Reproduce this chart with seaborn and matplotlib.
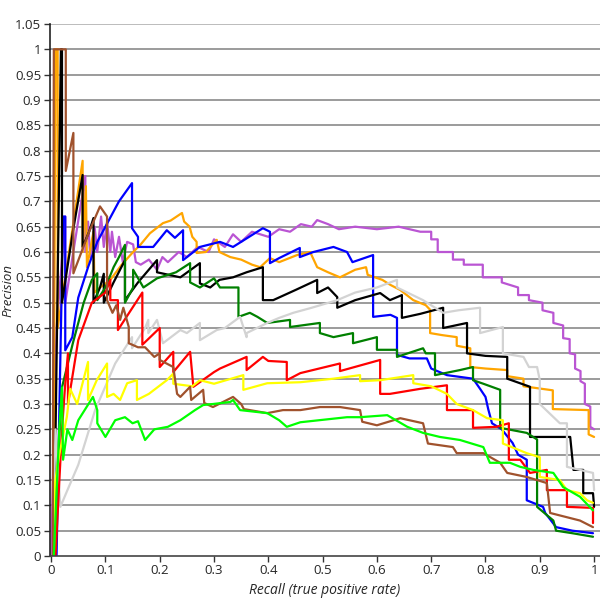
import numpy as np
import pandas as pd
import matplotlib
matplotlib.use('Agg')
import matplotlib.pyplot as plt
import seaborn as sns

# precision / recall points, one pair of lists per curve
purple_r = [0.000, 0.010, 0.026, 0.026, 0.063, 0.063, 0.068, 0.072, 0.080, 0.085, 0.092, 0.097, 0.103, 0.109, 0.112,
            0.118, 0.125, 0.132, 0.140, 0.151, 0.156, 0.165, 0.180, 0.195, 0.205, 0.215, 0.235, 0.250, 0.270, 0.290,
            0.300, 0.320, 0.335, 0.350, 0.370, 0.400, 0.420, 0.440, 0.460, 0.480, 0.490, 0.510, 0.530, 0.560, 0.600,
            0.640, 0.680, 0.700, 0.700, 0.712, 0.712, 0.740, 0.740, 0.760, 0.760, 0.795, 0.795, 0.830, 0.830, 0.860,
            0.860, 0.880, 0.880, 0.905, 0.905, 0.925, 0.925, 0.943, 0.943, 0.955, 0.955, 0.965, 0.965, 0.975, 0.975,
            0.983, 0.983, 0.993, 0.993, 1.000]
purple_p = [0.000, 0.450, 0.670, 0.500, 0.750, 0.600, 0.660, 0.590, 0.650, 0.600, 0.670, 0.610, 0.660, 0.600, 0.640,
            0.590, 0.630, 0.580, 0.620, 0.615, 0.580, 0.575, 0.585, 0.565, 0.590, 0.580, 0.600, 0.590, 0.610, 0.600,
            0.625, 0.610, 0.635, 0.620, 0.640, 0.630, 0.645, 0.640, 0.655, 0.650, 0.663, 0.655, 0.645, 0.650, 0.645,
            0.650, 0.640, 0.640, 0.625, 0.625, 0.600, 0.600, 0.585, 0.585, 0.575, 0.575, 0.550, 0.550, 0.540, 0.530,
            0.515, 0.515, 0.505, 0.500, 0.485, 0.480, 0.460, 0.455, 0.430, 0.428, 0.400, 0.398, 0.370, 0.365, 0.345,
            0.340, 0.300, 0.295, 0.255, 0.250]

orange_r = [0.004, 0.008, 0.012, 0.012, 0.040, 0.058, 0.058, 0.064, 0.066, 0.078, 0.080, 0.090, 0.109, 0.130, 0.151,
            0.165, 0.182, 0.206, 0.220, 0.241, 0.245, 0.255, 0.260, 0.268, 0.268, 0.285, 0.305, 0.310, 0.330, 0.350,
            0.370, 0.385, 0.403, 0.420, 0.453, 0.477, 0.490, 0.510, 0.532, 0.560, 0.580, 0.583, 0.610, 0.625, 0.643,
            0.667, 0.690, 0.698, 0.698, 0.720, 0.747, 0.747, 0.772, 0.772, 0.800, 0.840, 0.840, 0.870, 0.870, 0.924,
            0.924, 0.990, 0.990, 1.000]
orange_p = [0.000, 1.000, 1.000, 0.450, 0.650, 0.780, 0.600, 0.730, 0.570, 0.640, 0.520, 0.530, 0.545, 0.575, 0.600,
            0.615, 0.637, 0.657, 0.662, 0.677, 0.660, 0.650, 0.630, 0.620, 0.598, 0.600, 0.624, 0.600, 0.590, 0.585,
            0.575, 0.570, 0.588, 0.580, 0.594, 0.600, 0.570, 0.560, 0.550, 0.565, 0.570, 0.555, 0.545, 0.535, 0.525,
            0.505, 0.495, 0.486, 0.440, 0.436, 0.432, 0.415, 0.410, 0.373, 0.370, 0.367, 0.355, 0.350, 0.335, 0.327,
            0.290, 0.288, 0.240, 0.235]

blue_r = [0.010, 0.022, 0.026, 0.026, 0.039, 0.050, 0.068, 0.085, 0.100, 0.125, 0.149, 0.149, 0.160, 0.160, 0.188,
          0.213, 0.228, 0.243, 0.243, 0.274, 0.311, 0.335, 0.390, 0.403, 0.403, 0.420, 0.458, 0.458, 0.483, 0.520,
          0.545, 0.555, 0.593, 0.593, 0.625, 0.637, 0.637, 0.660, 0.692, 0.700, 0.729, 0.777, 0.790, 0.800, 0.805,
          0.812, 0.830, 0.850, 0.860, 0.876, 0.876, 0.906, 0.910, 0.930, 0.960, 0.998]
blue_p = [0.000, 0.670, 0.670, 0.406, 0.432, 0.510, 0.570, 0.620, 0.650, 0.700, 0.736, 0.647, 0.630, 0.610, 0.610,
          0.643, 0.628, 0.643, 0.584, 0.610, 0.620, 0.610, 0.647, 0.640, 0.578, 0.588, 0.608, 0.590, 0.600, 0.610,
          0.600, 0.580, 0.594, 0.472, 0.476, 0.470, 0.397, 0.390, 0.390, 0.370, 0.357, 0.350, 0.330, 0.314, 0.290,
          0.262, 0.250, 0.223, 0.200, 0.190, 0.110, 0.097, 0.085, 0.057, 0.050, 0.045]

black_r = [0.005, 0.018, 0.020, 0.020, 0.040, 0.058, 0.058, 0.070, 0.078, 0.078, 0.090, 0.097, 0.097, 0.115, 0.136,
           0.136, 0.160, 0.195, 0.195, 0.238, 0.274, 0.274, 0.293, 0.310, 0.335, 0.360, 0.390, 0.390, 0.409, 0.450,
           0.490, 0.490, 0.510, 0.527, 0.527, 0.560, 0.606, 0.624, 0.646, 0.646, 0.680, 0.722, 0.722, 0.766, 0.766,
           0.800, 0.840, 0.840, 0.882, 0.882, 0.920, 0.956, 0.962, 0.980, 0.980, 0.998, 1.000]
black_p = [0.000, 1.000, 1.000, 0.500, 0.640, 0.752, 0.610, 0.640, 0.667, 0.500, 0.530, 0.557, 0.500, 0.540, 0.584,
           0.505, 0.540, 0.584, 0.560, 0.550, 0.578, 0.538, 0.530, 0.545, 0.550, 0.560, 0.570, 0.505, 0.505, 0.525,
           0.545, 0.519, 0.530, 0.511, 0.490, 0.505, 0.519, 0.505, 0.515, 0.470, 0.478, 0.490, 0.450, 0.460, 0.400,
           0.395, 0.393, 0.350, 0.334, 0.235, 0.235, 0.235, 0.170, 0.170, 0.124, 0.124, 0.097]

green_r = [0.005, 0.013, 0.020, 0.040, 0.060, 0.075, 0.085, 0.085, 0.100, 0.115, 0.125, 0.136, 0.136, 0.151, 0.151,
           0.170, 0.195, 0.230, 0.256, 0.256, 0.274, 0.300, 0.311, 0.345, 0.345, 0.366, 0.380, 0.398, 0.440, 0.440,
           0.495, 0.495, 0.520, 0.556, 0.556, 0.600, 0.600, 0.637, 0.637, 0.685, 0.690, 0.707, 0.707, 0.753, 0.777,
           0.777, 0.796, 0.827, 0.827, 0.876, 0.895, 0.895, 0.925, 0.930, 0.960, 0.998]
green_p = [0.000, 0.200, 0.333, 0.420, 0.500, 0.545, 0.558, 0.505, 0.530, 0.570, 0.590, 0.614, 0.500, 0.530, 0.565,
           0.530, 0.548, 0.560, 0.578, 0.540, 0.530, 0.548, 0.530, 0.530, 0.472, 0.480, 0.472, 0.460, 0.466, 0.452,
           0.460, 0.440, 0.432, 0.440, 0.420, 0.432, 0.407, 0.407, 0.393, 0.410, 0.400, 0.400, 0.357, 0.367, 0.373,
           0.347, 0.340, 0.328, 0.253, 0.243, 0.230, 0.097, 0.070, 0.050, 0.045, 0.038]

gray_r = [0.003, 0.008, 0.017, 0.030, 0.050, 0.081, 0.100, 0.118, 0.149, 0.149, 0.173, 0.179, 0.179, 0.195, 0.206,
          0.238, 0.250, 0.274, 0.274, 0.305, 0.320, 0.348, 0.360, 0.360, 0.398, 0.420, 0.446, 0.480, 0.527, 0.560,
          0.600, 0.637, 0.637, 0.685, 0.722, 0.750, 0.790, 0.790, 0.832, 0.832, 0.870, 0.880, 0.895, 0.900, 0.900,
          0.937, 0.950, 0.950, 0.998, 1.000]
gray_p = [0.000, 0.250, 0.097, 0.130, 0.180, 0.288, 0.335, 0.380, 0.432, 0.410, 0.450, 0.466, 0.440, 0.466, 0.420,
          0.446, 0.440, 0.460, 0.426, 0.446, 0.450, 0.472, 0.432, 0.440, 0.460, 0.470, 0.480, 0.490, 0.505, 0.520,
          0.530, 0.545, 0.530, 0.505, 0.480, 0.485, 0.490, 0.440, 0.452, 0.400, 0.393, 0.373, 0.373, 0.347, 0.300,
          0.262, 0.262, 0.176, 0.164, 0.130]

red_r = [0.008, 0.020, 0.026, 0.031, 0.031, 0.050, 0.075, 0.100, 0.109, 0.109, 0.123, 0.123, 0.168, 0.168, 0.200,
         0.200, 0.225, 0.225, 0.256, 0.262, 0.300, 0.311, 0.360, 0.360, 0.390, 0.400, 0.434, 0.434, 0.459, 0.532,
         0.532, 0.606, 0.606, 0.624, 0.680, 0.729, 0.729, 0.777, 0.777, 0.820, 0.843, 0.843, 0.864, 0.882, 0.913,
         0.913, 0.950, 0.950, 0.998, 0.998]
red_p = [0.000, 0.250, 0.340, 0.400, 0.300, 0.426, 0.500, 0.520, 0.545, 0.505, 0.505, 0.446, 0.520, 0.417, 0.450,
         0.373, 0.403, 0.363, 0.403, 0.334, 0.363, 0.370, 0.393, 0.367, 0.393, 0.385, 0.383, 0.347, 0.361, 0.380,
         0.365, 0.387, 0.320, 0.320, 0.330, 0.337, 0.288, 0.288, 0.253, 0.255, 0.262, 0.190, 0.190, 0.164, 0.170,
         0.130, 0.130, 0.097, 0.095, 0.065]

yellow_r = [0.005, 0.007, 0.015, 0.029, 0.035, 0.048, 0.068, 0.068, 0.084, 0.103, 0.103, 0.115, 0.127, 0.140, 0.158,
            0.158, 0.180, 0.213, 0.225, 0.225, 0.260, 0.274, 0.300, 0.354, 0.354, 0.398, 0.459, 0.520, 0.569, 0.569,
            0.606, 0.667, 0.667, 0.700, 0.729, 0.747, 0.777, 0.803, 0.832, 0.832, 0.876, 0.900, 0.900, 0.937, 0.950,
            0.974, 0.987, 0.998]
yellow_p = [0.000, 0.144, 0.200, 0.275, 0.330, 0.300, 0.383, 0.308, 0.347, 0.380, 0.314, 0.320, 0.308, 0.341, 0.347,
            0.308, 0.320, 0.347, 0.360, 0.340, 0.335, 0.347, 0.340, 0.357, 0.328, 0.341, 0.343, 0.350, 0.357, 0.345,
            0.347, 0.357, 0.341, 0.335, 0.320, 0.300, 0.288, 0.272, 0.268, 0.222, 0.203, 0.195, 0.156, 0.150, 0.130,
            0.124, 0.110, 0.105]

brown_r = [0.003, 0.005, 0.027, 0.027, 0.041, 0.041, 0.070, 0.090, 0.103, 0.103, 0.113, 0.120, 0.127, 0.133, 0.143,
           0.143, 0.160, 0.173, 0.190, 0.200, 0.200, 0.225, 0.232, 0.238, 0.256, 0.258, 0.280, 0.282, 0.298, 0.335,
           0.350, 0.355, 0.398, 0.427, 0.459, 0.495, 0.532, 0.569, 0.573, 0.600, 0.643, 0.685, 0.694, 0.740, 0.747,
           0.796, 0.827, 0.840, 0.876, 0.913, 0.919, 0.974, 0.998]
brown_p = [0.000, 1.000, 1.000, 0.760, 0.835, 0.558, 0.640, 0.690, 0.670, 0.505, 0.480, 0.495, 0.466, 0.490, 0.452,
           0.420, 0.412, 0.412, 0.393, 0.400, 0.387, 0.373, 0.320, 0.314, 0.334, 0.308, 0.328, 0.302, 0.294, 0.314,
           0.300, 0.290, 0.282, 0.288, 0.288, 0.294, 0.294, 0.288, 0.265, 0.258, 0.272, 0.262, 0.222, 0.215, 0.203,
           0.203, 0.184, 0.164, 0.156, 0.144, 0.085, 0.070, 0.057]

lime_r = [0.005, 0.015, 0.020, 0.022, 0.030, 0.039, 0.050, 0.077, 0.085, 0.085, 0.100, 0.118, 0.136, 0.150, 0.160,
          0.173, 0.190, 0.215, 0.238, 0.265, 0.280, 0.298, 0.330, 0.335, 0.348, 0.398, 0.420, 0.434, 0.459, 0.545,
          0.569, 0.619, 0.656, 0.685, 0.716, 0.753, 0.796, 0.808, 0.845, 0.864, 0.888, 0.925, 0.943, 0.974, 0.998]
lime_p = [0.000, 0.250, 0.333, 0.190, 0.250, 0.229, 0.268, 0.314, 0.288, 0.262, 0.235, 0.268, 0.274, 0.262, 0.266,
          0.229, 0.250, 0.255, 0.268, 0.288, 0.298, 0.300, 0.304, 0.308, 0.288, 0.282, 0.268, 0.255, 0.264, 0.274,
          0.274, 0.278, 0.255, 0.243, 0.235, 0.229, 0.215, 0.184, 0.184, 0.176, 0.170, 0.164, 0.136, 0.117, 0.090]

curves = {
    'purple': (purple_r, purple_p, '#BA55D3'),
    'orange': (orange_r, orange_p, '#FFA500'),
    'blue': (blue_r, blue_p, '#0000FF'),
    'black': (black_r, black_p, '#000000'),
    'green': (green_r, green_p, '#008000'),
    'gray': (gray_r, gray_p, '#D3D3D3'),
    'red': (red_r, red_p, '#FF0000'),
    'yellow': (yellow_r, yellow_p, '#FFFF00'),
    'brown': (brown_r, brown_p, '#A0522D'),
    'lime': (lime_r, lime_p, '#00FF00'),
}

frames = []
for name, (r, p, c) in curves.items():
    frames.append(pd.DataFrame({'recall': r, 'precision': p, 'model': name}))
df = pd.concat(frames, ignore_index=True)
palette = {name: v[2] for name, v in curves.items()}

sns.set_style('white')
plt.rcParams['font.family'] = ['Open Sans', 'DejaVu Sans']

fig = plt.figure(figsize=(6, 6), dpi=100)
ax = fig.add_axes([0.0825, 0.0733, 0.9167, 0.8867])

# horizontal grid only
for yv in np.arange(0.05, 1.051, 0.05):
    ax.axhline(yv, color='#8a8a8a' if yv < 1.04 else '#b0b0b0', lw=1.2, zorder=0)

sns.lineplot(data=df, x='recall', y='precision', hue='model', palette=palette,
             sort=False, estimator=None, lw=1.6, legend=False, ax=ax)

ax.set_xlim(-0.003, 1.01)
ax.set_ylim(0, 1.05)
ax.set_xticks(np.arange(0, 1.01, 0.1))
ax.set_xticklabels(['0', '0.1', '0.2', '0.3', '0.4', '0.5', '0.6', '0.7', '0.8', '0.9', '1'])
yt = np.arange(0, 1.051, 0.05)
ax.set_yticks(yt)
ax.set_yticklabels(['0' if v == 0 else ('1' if abs(v - 1) < 1e-9 else f'{v:.2f}'.rstrip('0')) for v in yt])
ax.tick_params(axis='both', labelsize=9.5, length=4, width=1, color='#333333', pad=2,
               bottom=True, left=True)
for s in ['top', 'right']:
    ax.spines[s].set_visible(False)
ax.spines['left'].set_color('#222222')
ax.spines['bottom'].set_color('#444444')
ax.spines['left'].set_linewidth(1.2)
ax.spines['bottom'].set_linewidth(1.2)

ax.set_xlabel('Recall (true positive rate)', fontstyle='italic', fontsize=10, labelpad=4)
ax.set_ylabel('Precision', fontstyle='italic', fontsize=9.5)
ax.yaxis.set_label_coords(-0.063, 0.5)

fig.savefig('out.png', dpi=100)
